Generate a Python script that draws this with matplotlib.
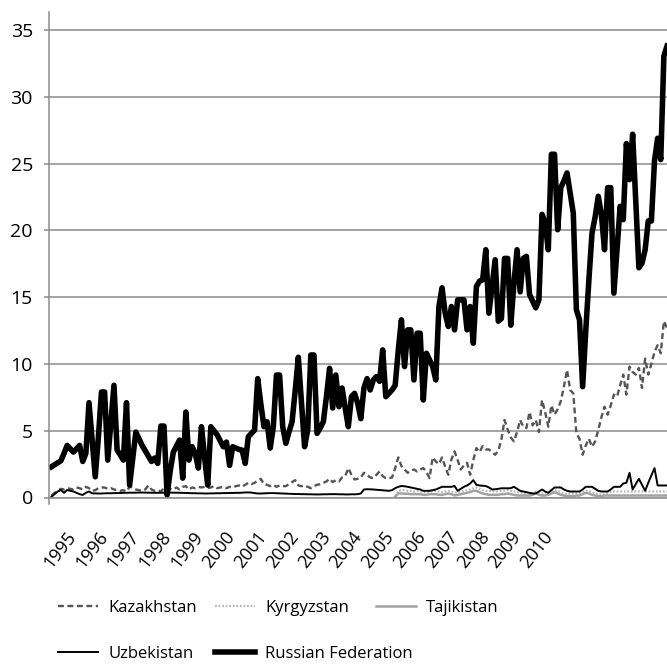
import numpy as np
import matplotlib
matplotlib.use("Agg")
import matplotlib.pyplot as plt

plt.rcParams['font.family'] = ['Open Sans', 'DejaVu Sans']

years = [str(y) for y in range(1995, 2011)]

russia = [2.3, 2.45, 2.6, 2.75, 3.3, 3.9, 3.65, 3.4, 3.65, 3.9,
          2.7, 3.3, 7.1, 4.3, 1.55, 4.5, 7.9, 7.9, 2.8, 5.6,
          8.4, 3.55, 3.2, 2.8, 7.1, 0.93, 2.9, 4.9, 4.4, 3.9,
          3.5, 3.1, 2.7, 2.95, 2.55, 5.35, 5.35, 0.2, 2.0, 3.4,
          3.85, 4.3, 1.45, 6.4, 2.8, 3.8, 3.3, 2.2, 5.3, 3.0,
          0.93, 5.3, 5.0, 4.7, 4.25, 3.8, 4.15, 2.4, 3.8, 3.7,
          3.6, 3.55, 2.55, 4.55, 4.8, 5.05, 8.9, 7.0, 5.3, 5.67,
          3.7, 5.3, 9.17, 9.17, 5.3, 4.05, 4.9, 5.67, 8.0, 10.5,
          7.2, 3.8, 5.05, 10.67, 10.67, 4.8, 5.2, 5.67, 7.55, 9.67,
          6.7, 9.17, 6.8, 8.2, 6.7, 5.3, 7.55, 7.8, 7.05, 5.9,
          8.2, 8.9, 8.05, 8.8, 9.05, 8.7, 11.05, 7.55, 7.8, 8.05,
          8.4, 11.05, 13.3, 9.8, 12.55, 12.55, 8.8, 12.3, 12.3, 7.3,
          10.8, 10.3, 9.8, 8.8, 14.3, 15.7, 13.8, 12.8, 14.3, 12.55,
          14.8, 14.8, 14.8, 12.55, 14.3, 11.55, 15.8, 16.2, 16.3, 18.55,
          13.8, 15.8, 17.8, 13.2, 13.4, 17.9, 17.9, 12.9, 16.0, 18.55,
          15.4, 17.9, 18.05, 15.2, 14.7, 14.2, 14.8, 21.2, 20.55, 18.55,
          25.7, 25.7, 20.05, 23.2, 23.7, 24.3, 22.8, 21.3, 14.05, 13.3,
          8.3, 12.5, 16.3, 19.8, 21.0, 22.55, 21.2, 18.55, 23.2, 23.2,
          15.3, 18.5, 21.8, 20.8, 26.5, 23.8, 27.2, 22.2, 17.2, 17.55,
          18.55, 20.7, 20.7, 25.2, 26.9, 25.3, 33.05, 33.8]

kazakhstan = [0.15, 0.35, 0.5, 0.65, 0.6, 0.7, 0.65, 0.6, 0.75, 0.7,
              0.6, 0.8, 0.7, 0.5, 0.55, 0.7, 0.75, 0.75, 0.65, 0.7,
              0.6, 0.55, 0.5, 0.55, 0.45, 0.8, 0.75, 0.6, 0.55, 0.5,
              0.6, 0.9, 0.6, 0.5, 0.55, 0.45, 0.7, 0.55, 0.65, 0.6,
              0.75, 0.6, 0.8, 0.85, 0.6, 0.75, 0.7, 0.8, 0.75, 0.8,
              0.7, 0.75, 0.85, 0.7, 0.75, 0.8, 0.7, 0.8, 0.75, 0.85,
              0.9, 0.8, 0.95, 1.1, 1.0, 1.1, 1.25, 1.4, 1.0, 0.95,
              0.85, 0.95, 0.8, 0.9, 0.85, 0.85, 1.0, 1.15, 1.3, 0.9,
              0.85, 0.9, 0.8, 0.7, 0.85, 0.95, 1.0, 1.1, 1.2, 1.4,
              1.15, 1.3, 1.2, 1.5, 1.6, 2.2, 1.7, 1.35, 1.4, 1.5,
              1.85, 1.7, 1.5, 1.45, 1.7, 1.95, 1.6, 1.45, 1.45, 1.5,
              2.2, 3.0, 2.35, 2.1, 1.85, 2.0, 2.1, 1.95, 2.1, 2.2,
              1.9, 1.45, 3.0, 2.7, 2.5, 3.0, 2.3, 1.7, 2.85, 3.45,
              2.8, 2.1, 2.4, 2.6, 1.7, 2.8, 3.7, 3.4, 3.85, 3.6,
              3.6, 3.4, 3.2, 3.5, 4.35, 5.8, 5.1, 4.5, 4.2, 4.9,
              5.8, 5.3, 5.2, 6.4, 5.4, 5.8, 4.9, 7.3, 6.4, 5.3,
              6.9, 6.2, 6.6, 7.2, 8.3, 9.55, 8.05, 7.8, 4.8, 4.4,
              3.2, 3.9, 4.4, 3.8, 4.2, 5.05, 6.0, 6.8, 6.2, 6.9,
              7.7, 7.55, 8.4, 9.2, 7.7, 9.8, 9.4, 9.2, 9.7, 8.2,
              10.4, 9.2, 10.0, 10.9, 11.4, 10.8, 13.2, 12.7]

uzbekistan = [0.06, 0.25, 0.45, 0.56, 0.35, 0.56, 0.5, 0.45, 0.35, 0.25,
              0.19, 0.35, 0.45, 0.31, 0.31, 0.3, 0.3, 0.31, 0.32, 0.32,
              0.33, 0.33, 0.34, 0.35, 0.35, 0.36, 0.36, 0.36, 0.37, 0.37,
              0.37, 0.36, 0.36, 0.35, 0.35, 0.36, 0.36, 0.37, 0.37, 0.36,
              0.36, 0.35, 0.35, 0.34, 0.33, 0.32, 0.32, 0.31, 0.31, 0.3,
              0.3, 0.31, 0.31, 0.32, 0.32, 0.33, 0.33, 0.34, 0.34, 0.35,
              0.35, 0.36, 0.38, 0.38, 0.37, 0.33, 0.3, 0.3, 0.31, 0.32,
              0.33, 0.33, 0.32, 0.31, 0.3, 0.29, 0.28, 0.27, 0.26, 0.26,
              0.25, 0.25, 0.24, 0.24, 0.23, 0.23, 0.23, 0.24, 0.24, 0.25,
              0.25, 0.25, 0.24, 0.24, 0.23, 0.23, 0.24, 0.24, 0.25, 0.3,
              0.6, 0.62, 0.61, 0.6, 0.58, 0.56, 0.54, 0.52, 0.5, 0.55,
              0.7, 0.8, 0.86, 0.84, 0.8, 0.75, 0.7, 0.65, 0.6, 0.5,
              0.5, 0.5, 0.55, 0.6, 0.7, 0.8, 0.8, 0.8, 0.8, 0.86,
              0.5, 0.65, 0.8, 0.9, 1.05, 1.3, 0.95, 0.9, 0.88, 0.86,
              0.75, 0.6, 0.62, 0.65, 0.69, 0.69, 0.69, 0.7, 0.8, 0.65,
              0.5, 0.45, 0.4, 0.35, 0.3, 0.3, 0.45, 0.6, 0.45, 0.35,
              0.55, 0.75, 0.75, 0.75, 0.6, 0.5, 0.45, 0.45, 0.45, 0.45,
              0.6, 0.8, 0.8, 0.8, 0.65, 0.5, 0.45, 0.45, 0.45, 0.6,
              0.8, 0.8, 0.8, 1.05, 1.1, 1.85, 0.6, 1.0, 1.4, 0.95,
              0.5, 1.1, 1.65, 2.2, 0.9, 0.9, 0.9, 0.9]

kyrgyzstan = [None] * 110 + [
    0.1, 0.5, 0.55, 0.55, 0.5, 0.5, 0.45, 0.5, 0.45, 0.4,
    0.4, 0.45, 0.45, 0.5, 0.45, 0.4, 0.45, 0.5, 0.45, 0.35,
    0.4, 0.45, 0.5, 0.55, 0.6, 0.7, 0.75, 0.65, 0.55, 0.5,
    0.5, 0.45, 0.45, 0.45, 0.5, 0.5, 0.55, 0.5, 0.45, 0.4,
    0.35, 0.35, 0.3, 0.3, 0.35, 0.45, 0.35, 0.3, 0.35, 0.4,
    0.5, 0.55, 0.5, 0.4, 0.3, 0.25, 0.3, 0.3, 0.3, 0.35,
    0.4, 0.5, 0.5, 0.4, 0.3, 0.25, 0.2, 0.25, 0.35, 0.4,
    0.45, 0.45, 0.45, 0.45, 0.45, 0.45, 0.45, 0.45, 0.45, 0.45,
    0.45, 0.45, 0.45, 0.45, 0.45, 0.45, 0.45, 0.45]

tajikistan = [None] * 110 + [
    0.05, 0.3, 0.3, 0.28, 0.28, 0.25, 0.25, 0.25, 0.25, 0.2,
    0.2, 0.25, 0.25, 0.25, 0.2, 0.2, 0.25, 0.3, 0.25, 0.15,
    0.2, 0.25, 0.3, 0.35, 0.4, 0.5, 0.5, 0.4, 0.3, 0.25,
    0.2, 0.2, 0.2, 0.2, 0.25, 0.25, 0.3, 0.25, 0.2, 0.15,
    0.15, 0.15, 0.15, 0.15, 0.2, 0.35, 0.2, 0.15, 0.15, 0.2,
    0.3, 0.4, 0.3, 0.2, 0.15, 0.1, 0.1, 0.1, 0.15, 0.15,
    0.25, 0.35, 0.3, 0.2, 0.15, 0.1, 0.1, 0.15, 0.15, 0.15,
    0.15, 0.15, 0.15, 0.15, 0.15, 0.15, 0.15, 0.15, 0.15, 0.15,
    0.15, 0.15, 0.15, 0.15, 0.15, 0.15, 0.15, 0.15]


def arr(v):
    return np.array([np.nan if a is None else a for a in v], dtype=float)


x = np.arange(len(russia))

W, H = 667, 664
fig = plt.figure(figsize=(W / 100, H / 100), dpi=100)
ax = fig.add_axes([49 / W, 166.5 / H, 618 / W, 485.5 / H])

grid_c = '#8c8c8c'
l_kaz, = ax.plot(x, arr(kazakhstan), color='#555555', lw=1.7,
                 linestyle=(0, (2.5, 1.5)), label='Kazakhstan')
l_kyr, = ax.plot(x, arr(kyrgyzstan), color='#b8b8b8', lw=1.6,
                 linestyle=(0, (0.8, 0.8)), label='Kyrgyzstan')
l_taj, = ax.plot(x, arr(tajikistan), color='#a3a3a3', lw=1.8,
                 label='Tajikistan')
l_uzb, = ax.plot(x, arr(uzbekistan), color='black', lw=1.4,
                 label='Uzbekistan')
l_rus, = ax.plot(x, arr(russia), color='black', lw=4.0,
                 label='Russian Federation')

ax.set_xlim(-0.8, len(russia) - 1)
ax.set_ylim(0, 36.35)
ax.set_yticks(np.arange(0, 36, 5))
ax.yaxis.grid(True, color=grid_c, lw=1.1)
ax.set_axisbelow(True)
for s in ['top', 'right']:
    ax.spines[s].set_visible(False)
ax.spines['left'].set_color(grid_c)
ax.spines['left'].set_linewidth(1.1)
ax.spines['left'].set_bounds(-0.5, 36.35)
ax.spines['bottom'].set_color(grid_c)
ax.spines['bottom'].set_linewidth(1.1)
ax.tick_params(axis='y', length=3.6, width=1.1, color=grid_c, pad=8,
               labelsize=14, labelcolor='black')

tick_pos = [9.0 + 10.18 * k for k in range(len(years))]
ax.set_xticks(tick_pos)
ax.set_xticklabels(years, rotation=52, ha='right', va='top')
ax.tick_params(axis='x', length=0, pad=22, labelsize=13, labelcolor='black')

entries = [(l_kaz, 58, 608), (l_kyr, 215, 608), (l_taj, 376, 608),
           (l_uzb, 58, 654), (l_rus, 215, 654)]
for h, px, py in entries:
    fig.legend([h], [h.get_label()], loc='center left',
               bbox_to_anchor=(px / W, 1 - py / H), frameon=False,
               borderpad=0, borderaxespad=0, handlelength=2.4,
               handletextpad=0.6, fontsize=12)

fig.savefig('out.png', dpi=100)
